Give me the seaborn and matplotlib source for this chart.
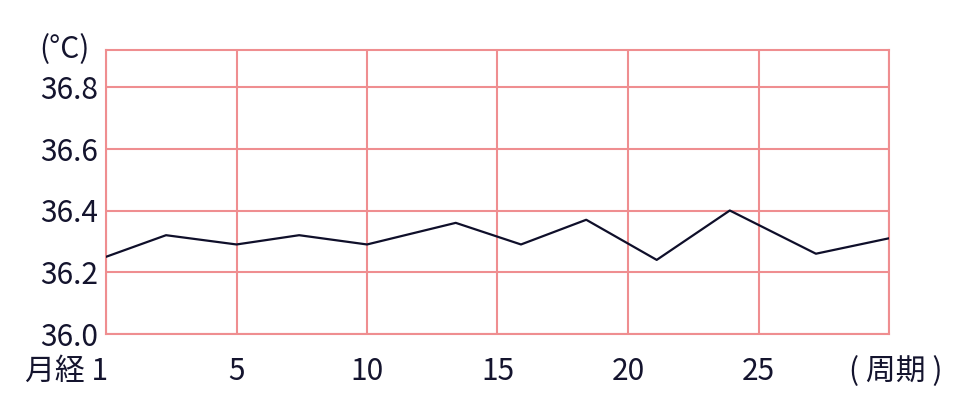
import matplotlib
matplotlib.use("Agg")
import matplotlib.pyplot as plt
import matplotlib.transforms as mtransforms
import seaborn as sns
import pandas as pd

# data
day = [0, 2.3, 5, 7.4, 10, 13.4, 15.9, 18.4, 21.1, 23.9, 27.2, 30]
temp = [36.25, 36.32, 36.29, 36.32, 36.29, 36.36, 36.29, 36.37, 36.24, 36.40, 36.26, 36.31]
x_ticks = [0, 5, 10, 15, 20, 25, 30]
x_labels = ["月経 1", "5", "10", "15", "20", "25", "( 周期 )"]
y_ticks = [36.0, 36.2, 36.4, 36.6, 36.8]
y_labels = ["36.0", "36.2", "36.4", "36.6", "36.8"]
unit_label = "(°C)"

sns.set_style("white")
plt.rcParams['font.family'] = ['Noto Sans CJK JP', 'DejaVu Sans']

grid_c = "#ef8e90"
text_c = "#14142e"
line_c = "#0f0f2a"
fs = 21.5

fig = plt.figure(figsize=(9.6, 4.0), dpi=100)
ax = fig.add_axes([106/960, 1 - 334/400, (889 - 106)/960, (334 - 50)/400])

df = pd.DataFrame({"day": day, "temp": temp})
sns.lineplot(data=df, x="day", y="temp", ax=ax, color=line_c, linewidth=1.6, zorder=3)

ax.set_xlim(0, 30)
ax.set_ylim(36.0, 36.0 + 0.8 * (334 - 50) / (334 - 87))
ax.set_xticks(x_ticks)
ax.set_xticklabels(x_labels)
ax.set_yticks(y_ticks)
ax.set_yticklabels(y_labels)
ax.set_xlabel("")
ax.set_ylabel("")

ax.grid(True, color=grid_c, linewidth=1.5)
ax.set_axisbelow(True)
for s in ax.spines.values():
    s.set_color(grid_c)
    s.set_linewidth(1.5)

ax.tick_params(axis="both", length=0, labelsize=fs, labelcolor=text_c)
ax.tick_params(axis="x", pad=16)
ax.tick_params(axis="y", pad=6)
xl = ax.get_xticklabels()
xl[0].set_ha("right")
xl[0].set_transform(xl[0].get_transform() + mtransforms.ScaledTranslation(2/100, 0, fig.dpi_scale_trans))
xl[-1].set_transform(xl[-1].get_transform() + mtransforms.ScaledTranslation(7/100, 0, fig.dpi_scale_trans))

fig.text(64/960, 1 - 50/400, unit_label, ha="center", va="center", fontsize=fs, color=text_c)

fig.savefig("out.png", dpi=100)
